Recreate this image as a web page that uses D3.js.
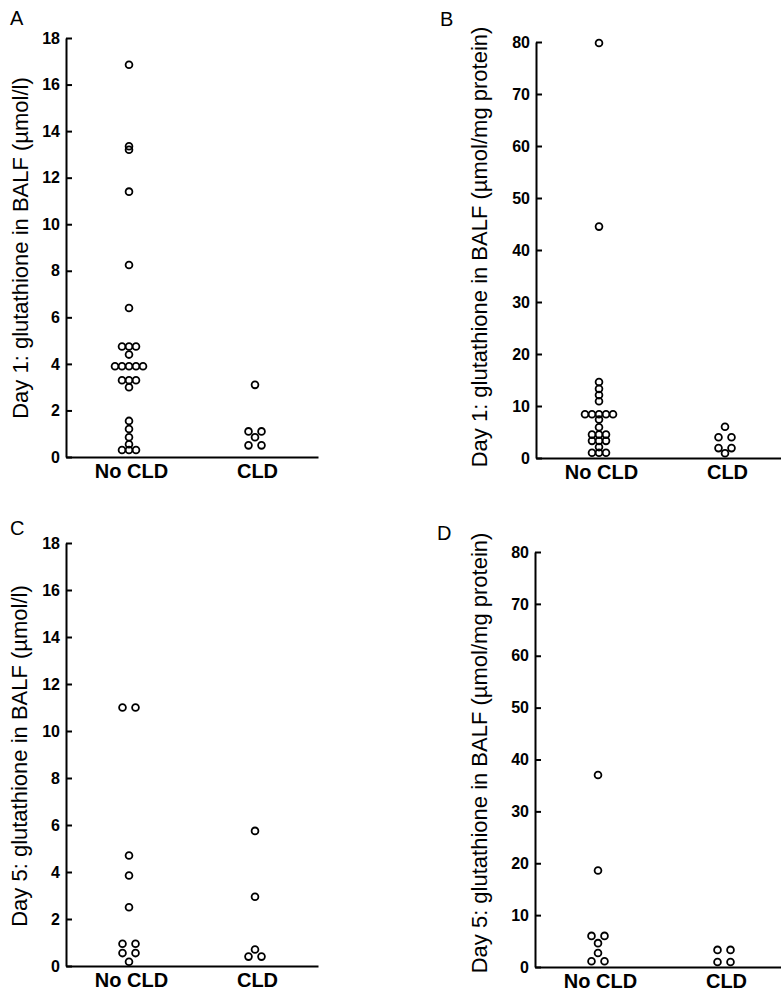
<!DOCTYPE html>
<html>
<head>
<meta charset="utf-8">
<script src="https://cdn.jsdelivr.net/npm/d3@7"></script>
<style>
  body { margin: 0; background: #fff; }
  svg { font-family: "Liberation Sans", Arial, Helvetica, sans-serif; }
</style>
</head>
<body>
<svg id="fig" width="781" height="991"></svg>
<script>
// groups on the x axis
var groups = ["No CLD", "CLD"];

// glutathione in BALF
var day1ConcNoCLD = [16.85, 13.35, 13.2, 11.4, 8.25, 6.4, 4.75, 4.75, 4.75, 4.4,
  3.9, 3.9, 3.9, 3.9, 3.9, 3.3, 3.3, 3.3, 3.0, 1.55, 1.2, 0.85, 0.55, 0.3, 0.3, 0.3];
var day1ConcCLD = [3.1, 1.1, 1.1, 0.85, 0.5, 0.5];

var day1ProtNoCLD = [79.8, 44.5, 14.6, 13.3, 12.1, 10.9, 8.4, 8.4, 8.4, 8.4, 8.4,
  7.4, 5.9, 4.5, 4.5, 4.5, 3.3, 3.3, 3.3, 2.1, 1.0, 1.0, 1.0];
var day1ProtCLD = [6.0, 4.0, 4.0, 1.9, 1.9, 0.9];

var day5ConcNoCLD = [11.0, 11.0, 4.7, 3.85, 2.5, 0.95, 0.95, 0.55, 0.55, 0.18];
var day5ConcCLD = [5.75, 2.95, 0.7, 0.4, 0.4];

var day5ProtNoCLD = [37.0, 18.6, 6.0, 6.0, 4.6, 2.7, 1.1, 1.1];
var day5ProtCLD = [3.3, 3.3, 0.95, 0.95];

// tick labels
var concTicks = [0, 2, 4, 6, 8, 10, 12, 14, 16, 18];
var protTicks = [0, 10, 20, 30, 40, 50, 60, 70, 80];

var panels = [
  { letter: "A", title: "Day 1: glutathione in BALF (\u00b5mol/l)", max: 18, ticks: concTicks,
    series: [day1ConcNoCLD, day1ConcCLD], left: 66, top: 38, height: 419,
    lx: 10, ly: 25, tx: 28, ty: 248 },
  { letter: "B", title: "Day 1: glutathione in BALF (\u00b5mol/mg protein)", max: 80, ticks: protTicks,
    series: [day1ProtNoCLD, day1ProtCLD], left: 536, top: 42, height: 416,
    lx: 440, ly: 26, tx: 487, ty: 247 },
  { letter: "C", title: "Day 5: glutathione in BALF (\u00b5mol/l)", max: 18, ticks: concTicks,
    series: [day5ConcNoCLD, day5ConcCLD], left: 66, top: 543, height: 423,
    lx: 10, ly: 535, tx: 27, ty: 756 },
  { letter: "D", title: "Day 5: glutathione in BALF (\u00b5mol/mg protein)", max: 80, ticks: protTicks,
    series: [day5ProtNoCLD, day5ProtCLD], left: 535, top: 552, height: 415,
    lx: 437, ly: 540, tx: 487, ty: 753 }
];

var axisWidth = 252, r = 3.4;

// equal values sit side by side in a row, centred on the group
function spread(values) {
  var counts = d3.rollup(values, function(v) { return v.length; }, function(d) { return d; });
  var seen = new Map();
  return values.map(function(v) {
    var n = counts.get(v), i = seen.get(v) || 0;
    seen.set(v, i + 1);
    var step = n === 2 ? 13 : 7;
    return { value: v, dx: (i - (n - 1) / 2) * step };
  });
}

var svg = d3.select("#fig");

panels.forEach(function(p) {
  var x = d3.scalePoint().domain(groups).range([0, axisWidth]).padding(0.5);
  var y = d3.scaleLinear().domain([0, p.max]).range([p.height, 0]);

  var g = svg.append("g").attr("transform", "translate(" + p.left + "," + p.top + ")");

  var ya = g.append("g")
    .call(d3.axisLeft(y).tickValues(p.ticks).tickSize(-6).tickSizeOuter(0).tickPadding(6));
  ya.selectAll("text").style("font-size", "16px").style("font-weight", "bold").attr("fill", "#000");

  var xa = g.append("g").attr("transform", "translate(0," + p.height + ")")
    .call(d3.axisBottom(x).tickSize(0).tickSizeOuter(0).tickPadding(7));
  xa.selectAll("text").style("font-size", "20px").style("font-weight", "bold").attr("fill", "#000")
    .attr("dx", 2);

  g.selectAll(".domain, .tick line").attr("stroke", "#000").attr("stroke-width", 2);

  groups.forEach(function(name, k) {
    g.selectAll(null).data(spread(p.series[k])).enter().append("circle")
      .attr("cx", function(d) { return x(name) + d.dx; })
      .attr("cy", function(d) { return y(d.value); })
      .attr("r", r)
      .attr("fill", "none")
      .attr("stroke", "#000")
      .attr("stroke-width", 1.8);
  });

  svg.append("text").attr("x", p.lx).attr("y", p.ly)
    .style("font-size", "20px").text(p.letter);

  svg.append("text")
    .attr("transform", "translate(" + p.tx + "," + p.ty + ") rotate(-90)")
    .attr("text-anchor", "middle")
    .style("font-size", "22px")
    .text(p.title);
});
</script>
</body>
</html>
